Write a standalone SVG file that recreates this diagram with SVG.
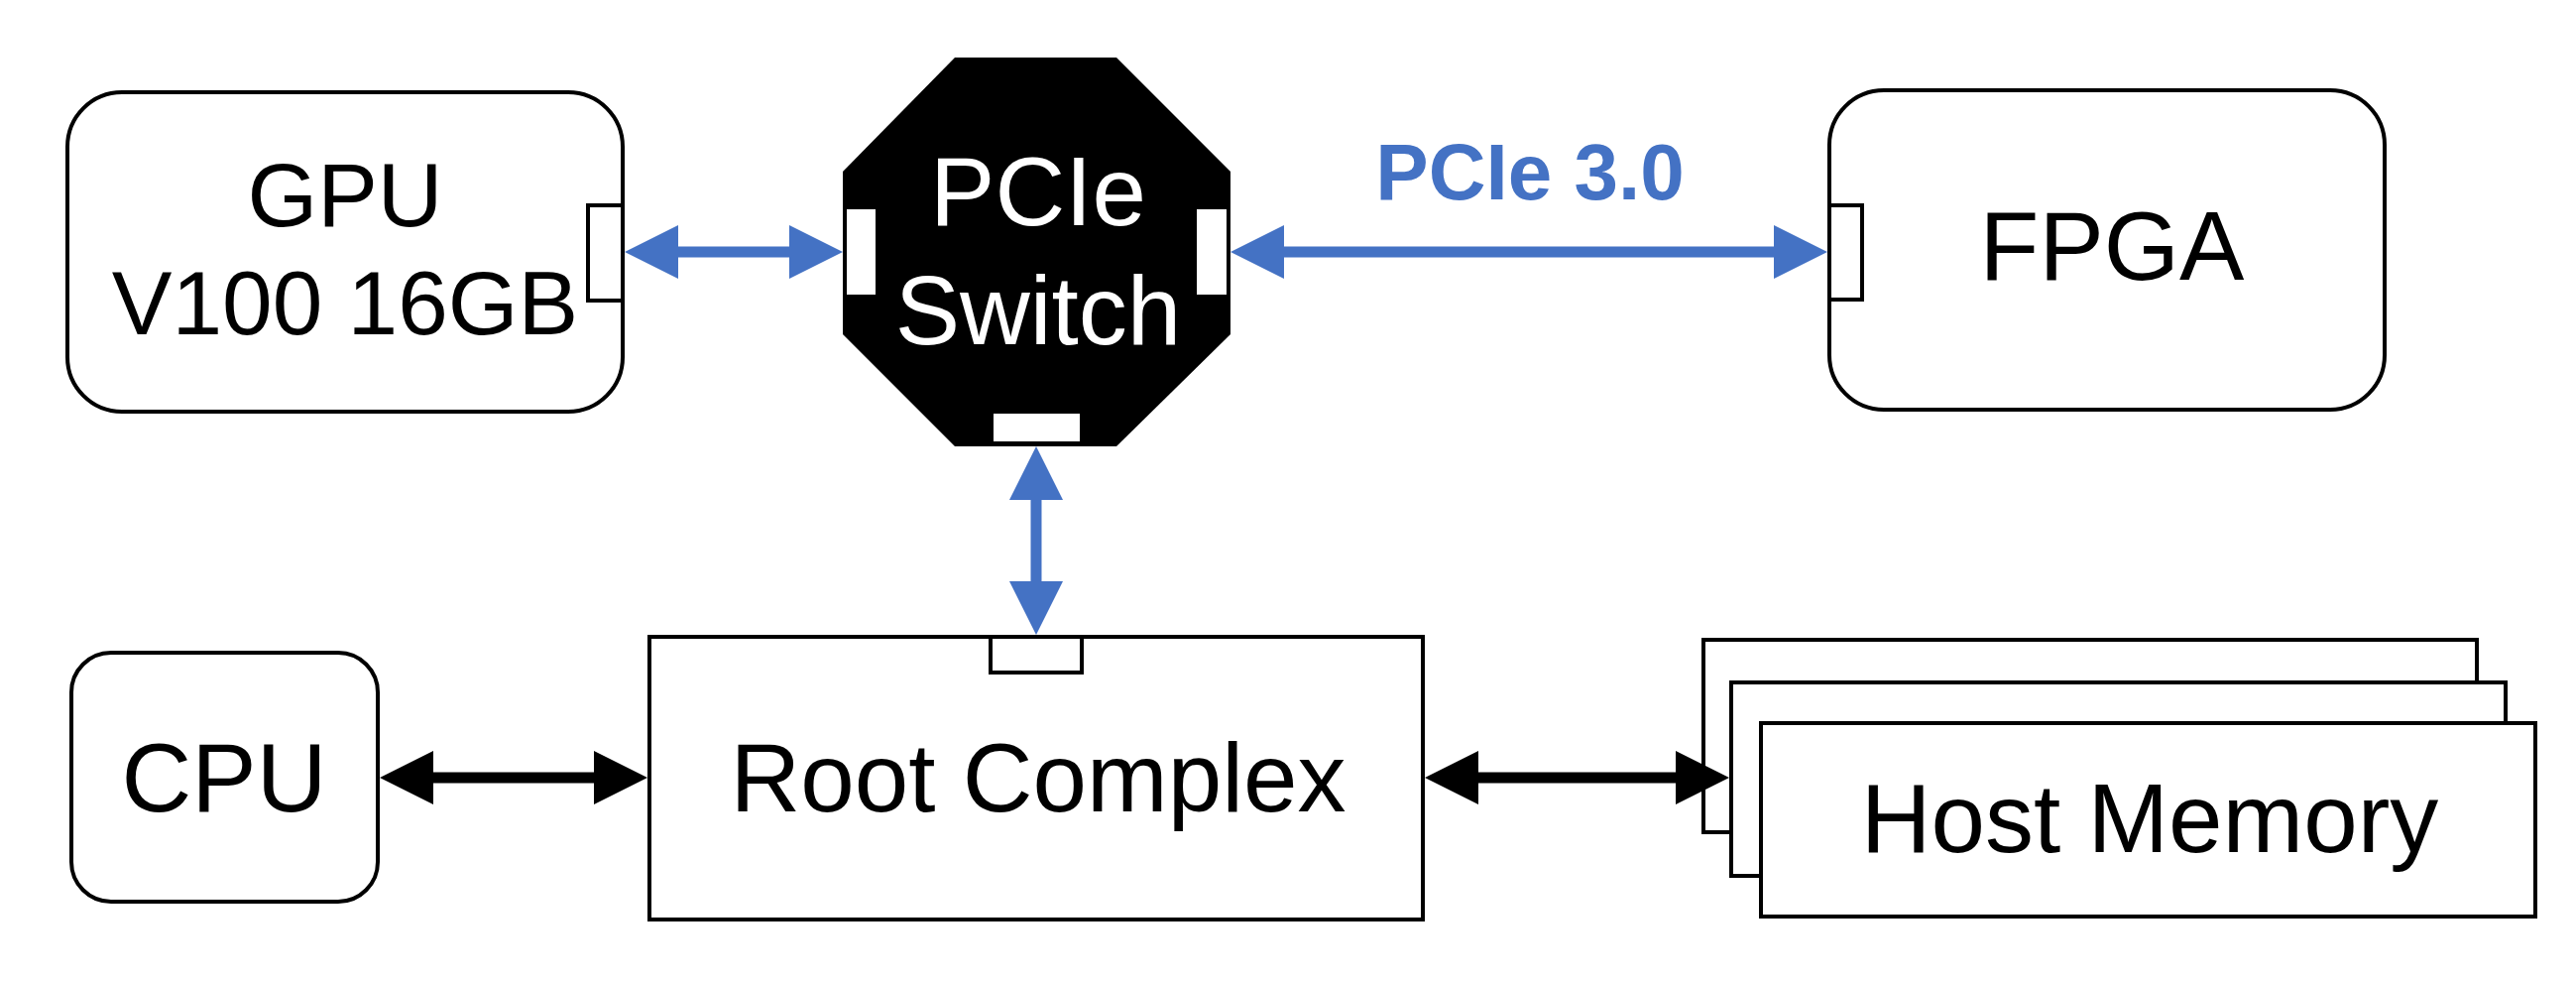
<svg xmlns="http://www.w3.org/2000/svg" width="2598" height="990" viewBox="0 0 2598 990">
<style>
.box{fill:#fff;stroke:#000;stroke-width:4}
.port{fill:#fff;stroke:#000;stroke-width:4}
.lbl{font-family:"Liberation Sans",Arial,sans-serif;font-size:98px;fill:#000;text-anchor:middle}
.blue{stroke:#4472C4;stroke-width:11;fill:none}
.black{stroke:#000;stroke-width:11;fill:none}
</style>
<defs>
<marker id="hb" markerUnits="userSpaceOnUse" markerWidth="60" markerHeight="60" viewBox="0 -30 60 60" refX="0" refY="0" orient="auto-start-reverse"><path d="M0,-27 L54,0 L0,27 z" fill="#4472C4"/></marker>
<marker id="hk" markerUnits="userSpaceOnUse" markerWidth="60" markerHeight="60" viewBox="0 -30 60 60" refX="0" refY="0" orient="auto-start-reverse"><path d="M0,-27 L54,0 L0,27 z" fill="#000"/></marker>
</defs>
<rect width="2598" height="990" fill="#fff"/>
<g id="gpu">
<rect class="box" x="68" y="93" width="560" height="322" rx="55" ry="55"/>
<rect class="port" x="593" y="207" width="35" height="96"/>
<text class="lbl" x="348" y="228" style="font-size:91px">GPU</text>
<text class="lbl" x="348" y="337" style="font-size:91px">V100 16GB</text>
</g>
<g id="switch">
<polygon points="963,58 1126,58 1241,173 1241,337 1126,450 963,450 850,337 850,173" fill="#000"/>
<rect x="854" y="211" width="29" height="86" fill="#fff"/>
<rect x="1207" y="211" width="30" height="86" fill="#fff"/>
<rect x="1002" y="417" width="87" height="28" fill="#fff"/>
<text class="lbl" x="1047" y="227" style="fill:#fff">PCIe</text>
<text class="lbl" x="1047" y="347" style="fill:#fff">Switch</text>
</g>
<g id="fpga">
<rect class="box" x="1845" y="91" width="560" height="322" rx="55" ry="55"/>
<rect class="port" x="1845" y="207" width="33" height="95"/>
<text class="lbl" x="2130" y="282">FPGA</text>
</g>
<g id="cpu">
<rect class="box" x="72" y="658" width="309" height="251" rx="40" ry="40"/>
<text class="lbl" x="226" y="818">CPU</text>
</g>
<g id="root-complex">
<rect class="box" x="655" y="642" width="780" height="285"/>
<rect class="port" x="999" y="642" width="92" height="36"/>
<text class="lbl" x="1047" y="818">Root Complex</text>
</g>
<g id="host-memory">
<rect class="box" x="1718" y="645" width="780" height="194"/>
<rect class="box" x="1746" y="688" width="781" height="195"/>
<rect class="box" x="1776" y="729" width="781" height="195"/>
<text class="lbl" x="2168" y="859">Host Memory</text>
</g>
<g id="connectors">
<line class="blue" x1="684" y1="254" x2="796" y2="254" marker-start="url(#hb)" marker-end="url(#hb)"/>
<line class="blue" x1="1295" y1="254" x2="1789" y2="254" marker-start="url(#hb)" marker-end="url(#hb)"/>
<line class="blue" x1="1045" y1="504" x2="1045" y2="586" marker-start="url(#hb)" marker-end="url(#hb)"/>
<line class="black" x1="437" y1="784" x2="599" y2="784" marker-start="url(#hk)" marker-end="url(#hk)"/>
<line class="black" x1="1491" y1="784" x2="1690" y2="784" marker-start="url(#hk)" marker-end="url(#hk)"/>
<text x="1543" y="201" style="font-family:'Liberation Sans',Arial,sans-serif;font-size:80px;font-weight:bold;fill:#4472C4;text-anchor:middle">PCIe 3.0</text>
</g>
</svg>
